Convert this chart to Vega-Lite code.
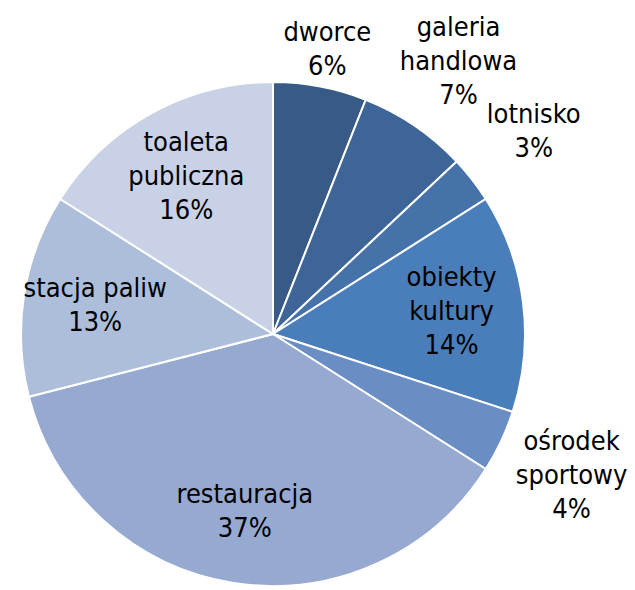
{
  "$schema": "https://vega.github.io/schema/vega-lite/v6.json",
  "width": 546,
  "height": 668,
  "autosize": "none",
  "padding": {"left": 0, "top": 0, "right": 89, "bottom": 0},
  "background": "white",
  "data": {
    "values": [
      {"order": 1, "category": "dworce", "pct": 6, "label": "dworce\n6%"},
      {"order": 2, "category": "galeria handlowa", "pct": 7, "label": "galeria\nhandlowa\n7%"},
      {"order": 3, "category": "lotnisko", "pct": 3, "label": "lotnisko\n3%"},
      {"order": 4, "category": "obiekty kultury", "pct": 14, "label": "obiekty\nkultury\n14%"},
      {"order": 5, "category": "ośrodek sportowy", "pct": 4, "label": "ośrodek\nsportowy\n4%"},
      {"order": 6, "category": "restauracja", "pct": 37, "label": "restauracja\n37%"},
      {"order": 7, "category": "stacja paliw", "pct": 13, "label": "stacja paliw\n13%"},
      {"order": 8, "category": "toaleta publiczna", "pct": 16, "label": "toaleta\npubliczna\n16%"}
    ]
  },
  "encoding": {
    "theta": {"field": "pct", "type": "quantitative", "stack": true},
    "order": {"field": "order", "type": "quantitative", "sort": "ascending"}
  },
  "layer": [
    {
      "mark": {"type": "arc", "outerRadius": 252, "stroke": "white", "strokeWidth": 2},
      "encoding": {
        "color": {
          "field": "category",
          "type": "nominal",
          "sort": {"field": "order"},
          "scale": {
            "domain": ["dworce", "galeria handlowa", "lotnisko", "obiekty kultury", "ośrodek sportowy", "restauracja", "stacja paliw", "toaleta publiczna"],
            "range": ["#375a87", "#3e6597", "#4573a9", "#4a7ebb", "#6a8dc4", "#95a9d1", "#adbedb", "#c8d1e5"]
          },
          "legend": null
        }
      }
    },
    {
      "mark": {
        "type": "text",
        "radius": {"expr": "datum.pct < 10 ? (datum.order == 1 ? 290 : 330) : 180"},
        "dy": {"expr": "-(length(split(datum.label, '\\n')) - 1) * 16.5"},
        "font": "DejaVu Sans Condensed",
        "fontSize": 27,
        "lineHeight": 34,
        "lineBreak": "\n",
        "align": "center",
        "baseline": "middle",
        "color": "black"
      },
      "encoding": {
        "text": {"field": "label", "type": "nominal"}
      }
    }
  ]
}
